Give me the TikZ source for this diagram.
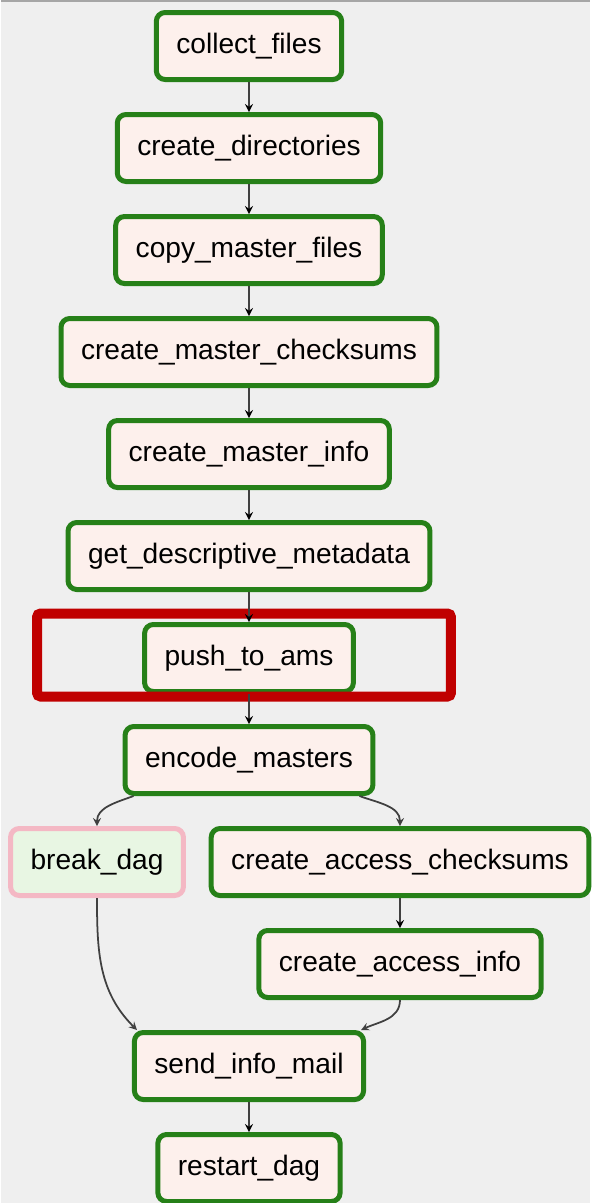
\documentclass[tikz,border=0pt]{standalone}
\usepackage{fontspec}
\setmainfont{Liberation Sans}
\usetikzlibrary{shapes.geometric,arrows,fit,positioning}
\definecolor{okgreen}{RGB}{38,128,24}
\definecolor{taskfill}{RGB}{253,240,236}
\definecolor{skipfill}{RGB}{232,246,227}
\definecolor{skippink}{RGB}{244,184,196}
\definecolor{bggrey}{RGB}{239,239,239}
\definecolor{hlred}{RGB}{192,0,0}
\definecolor{edgegrey}{RGB}{64,64,64}

\begin{document}
\begin{tikzpicture}[>=stealth]
\tikzstyle{task}=[rectangle,rounded corners=5pt,line width=0.1cm,
draw=okgreen,fill=taskfill,node distance=2.04cm,
inner xsep=0.4cm,minimum height=1.34cm,
font=\fontsize{16}{19}\selectfont]
\tikzstyle{skipped}=[task,draw=skippink,fill=skipfill]
\tikzstyle{link}=[draw=edgegrey,line width=1pt]
\tikzstyle{highlight}=[draw=hlred,line width=0.2cm,rounded corners=2pt]

\fill[bggrey] (-4.96,0.92) rectangle (6.82,-23.14);
\draw[gray!70,line width=0.04cm] (-4.96,0.9) -- (6.82,0.9);
\useasboundingbox (-4.96,0.92) rectangle (6.82,-23.14);

\node[task] at (0,0) (cf) {collect\_files};
\node[task,below of =cf] (cd) {create\_directories};
\node[task,below of =cd] (cmf) {copy\_master\_files};
\node[task,below of =cmf] (cmc) {create\_master\_checksums};
\node[task,below of =cmc] (cmi) {create\_master\_info};
\node[task,below of =cmi] (gdm) {get\_descriptive\_metadata};
\node[task,below of =gdm] (pta) {push\_to\_ams};
\node[task,below of =pta] (em) {encode\_masters};
\node[skipped,below of =em,xshift=-3.04cm] (bd) {break\_dag};
\node[task,below of =em,xshift=3.02cm] (cac) {create\_access\_checksums};
\node[task,below of =cac] (cai) {create\_access\_info};
\node[task,below of =cai,xshift=-3.02cm] (sim) {send\_info\_mail};
\node[task,below of =sim] (rd) {restart\_dag};

\node[highlight,fit=(pta),inner xsep=2cm,inner ysep=0.11cm,
xshift=-0.1cm,yshift=0.06cm] (hl) {};

\path[->,link] (cf) edge (cd) ;
\path[->,link] (cd) edge (cmf) ;
\path[->,link] (cmf) edge (cmc) ;
\path[->,link] (cmc) edge (cmi) ;
\path[->,link] (cmi) edge (gdm) ;
\path[->,link] (gdm) edge (pta) ;
\path[->,link] (pta) edge (em) ;
\path[->,link] (cac) edge (cai) ;
\path[->,link] (sim) edge (rd) ;
\draw[->,link] ([xshift=0.22cm]em.south west) to[out=200,in=90] (bd.north) ;
\draw[->,link] ([xshift=-0.32cm]em.south east) to[out=-20,in=90] (cac.north) ;
\draw[->,link] (bd.south) to[out=-90,in=135] ([xshift=0.1cm]sim.north west) ;
\draw[->,link] (cai.south) to[out=-90,in=25] ([xshift=-0.1cm]sim.north east) ;

\end{tikzpicture}
\end{document}
